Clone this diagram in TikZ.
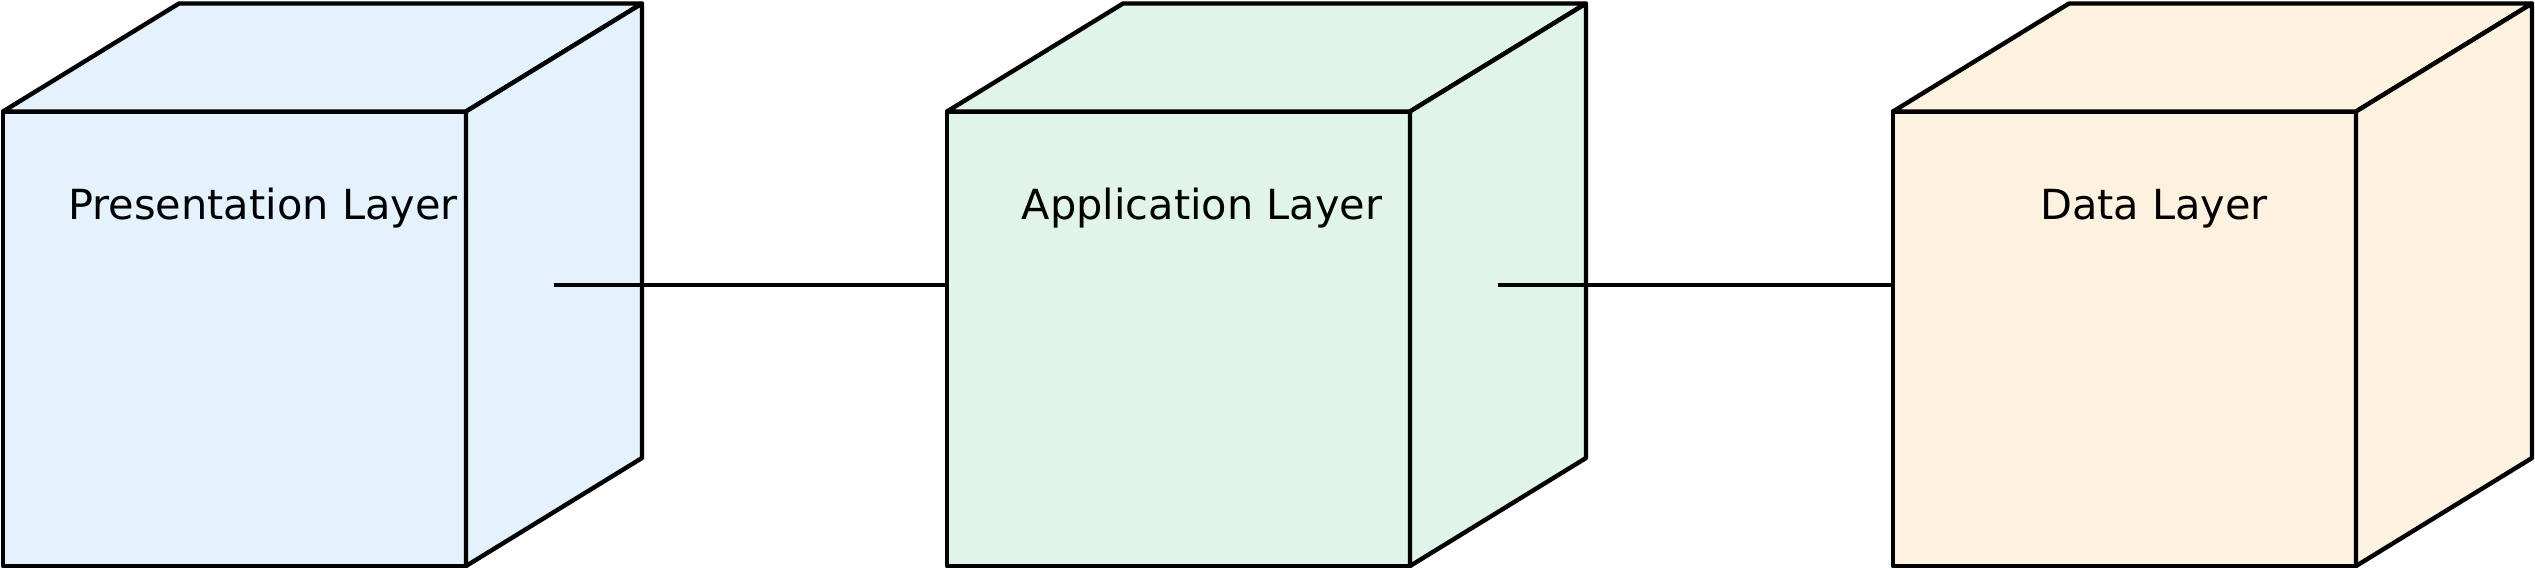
\documentclass[tikz,border=0pt]{standalone}
\usepackage{fontspec}
\setmainfont{DejaVu Sans}
\usetikzlibrary{calc}

\definecolor{presblue}{HTML}{E3F2FC}
\definecolor{appgreen}{HTML}{E0F4E8}
\definecolor{datacream}{HTML}{FDF2E0}

\begin{document}
\begin{tikzpicture}[
      face/.style={draw, line width=1.25pt, line join=round},
      front/.style={face, minimum width=4.63cm, minimum height=4.545cm,
        inner sep=0pt, outer sep=0pt, anchor=south west},
      layertext/.style={font=\fontsize{11.8}{14}\selectfont, inner sep=0pt},
      link/.style={line width=1.25pt}
    ]
      \useasboundingbox (0,0) rectangle (25.35,5.69);

      % front faces
      \node[front, fill=presblue]  (pres) at (0.03,0.03)  {};
      \node[front, fill=appgreen]  (app)  at (9.47,0.03)  {};
      \node[front, fill=datacream] (data) at (18.93,0.03) {};

      % top and side faces
      \foreach \n/\c in {pres/presblue, app/appgreen, data/datacream} {
        \draw[face, fill=\c] (\n.north west) -- ++(1.76,1.08) -- ++(4.63,0)
          -- (\n.north east) -- cycle;
        \draw[face, fill=\c] (\n.north east) -- ++(1.76,1.08) -- ++(0,-4.545)
          -- (\n.south east) -- cycle;
        \coordinate (\n-mid) at ($(\n.east)+(0.88,0.54)$);
      }

      % labels
      \node[layertext] (pres-label) at ($(pres.north west)+(2.60,-0.97)$) {Presentation Layer};
      \node[layertext] (app-label)  at ($(app.north west)+(2.55,-0.97)$)  {Application Layer};
      \node[layertext] (data-label) at ($(data.north west)+(2.61,-0.97)$) {Data Layer};

      % connectors
      \draw[link] (pres-mid) -- (pres-mid -| app.west);
      \draw[link] (app-mid) -- (app-mid -| data.west);
    \end{tikzpicture}
\end{document}
